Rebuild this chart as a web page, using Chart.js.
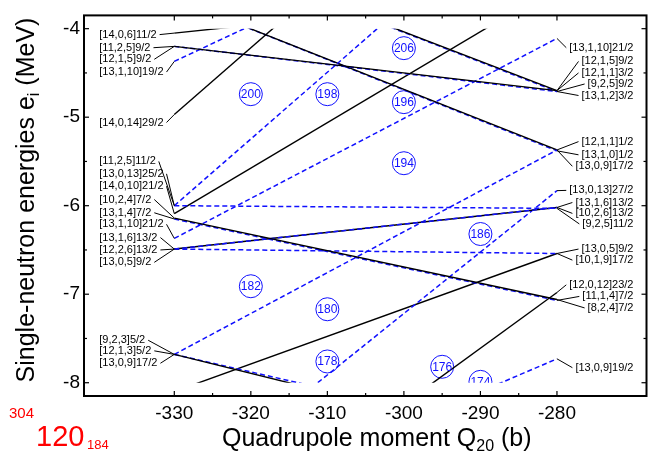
<!DOCTYPE html>
<html lang="en">
<head>
<meta charset="UTF-8">
<title>Single-neutron levels 304-120</title>
<script src="https://cdn.jsdelivr.net/npm/chart.js"></script>
<style>
  body { margin: 0; background: #fff; }
  canvas { display: block; }
</style>
</head>
<body>
<canvas id="levels" width="659" height="456"></canvas>
<script>
// levels are computed at two oblate deformations and joined by straight lines
const qEnds = [-330, -280];

// energy (MeV) of each level at Q20 = -330 and at Q20 = -280
const levelLeftE  = [-4.05, -4.20, -4.20, -4.37, -4.97, -6.00, -6.00, -6.09, -6.14, -6.15, -6.37, -6.49, -6.49,
                     -6.49, -7.68, -7.68, -7.68, -3.66, -3.66, -3.04, -3.04, -9.30, -10.13, -8.10, -9.58];
const levelRightE = [-3.60, -4.70, -4.71, -2.34, -1.20, -6.03, -2.23, -3.52, -7.06, -7.07, -4.11, -6.02, -6.02,
                     -6.54, -8.75, -8.67, -5.37, -5.37, -5.38, -4.70, -4.71, -5.83, -6.98, -6.54, -7.73];
// 1 = negative parity (odd N), drawn dashed blue
const levelOdd    = [0, 0, 1, 1, 0, 1, 1, 0, 0, 1, 1, 1, 0, 1, 0, 1, 1, 0, 1, 0, 1, 1, 0, 0, 1];

// Nilsson tags on the left side (Q20 = -330)
const leftTagText  = ['[14,0,6]11/2', '[11,2,5]9/2', '[12,1,5]9/2', '[13,1,10]19/2', '[14,0,14]29/2',
                      '[11,2,5]11/2', '[13,0,13]25/2', '[14,0,10]21/2', '[10,2,4]7/2', '[13,1,4]7/2',
                      '[13,1,10]21/2', '[13,1,6]13/2', '[12,2,6]13/2', '[13,0,5]9/2',
                      '[9,2,3]5/2', '[12,1,3]5/2', '[13,0,9]17/2'];
const leftTagE     = [-4.067, -4.215, -4.346, -4.49, -5.06, -5.50, -5.64, -5.78, -5.93, -6.08,
                      -6.21, -6.36, -6.50, -6.64, -7.52, -7.64, -7.78];
const leftTagLevel = [0, 2, 1, 3, 4, 5, 6, 7, 8, 9, 10, 11, 12, 13, 15, 14, 16];

// Nilsson tags on the right side (Q20 = -280)
const rightTagText  = ['[13,1,10]21/2', '[12,1,5]9/2', '[12,1,1]3/2', '[9,2,5]9/2', '[13,1,2]3/2',
                       '[12,1,1]1/2', '[13,1,0]1/2', '[13,0,9]17/2', '[13,0,13]27/2', '[13,1,6]13/2',
                       '[10,2,6]13/2', '[9,2,5]11/2', '[13,0,5]9/2', '[10,1,9]17/2', '[12,0,12]23/2',
                       '[11,1,4]7/2', '[8,2,4]7/2', '[13,0,9]19/2'];
const rightTagE     = [-4.215, -4.37, -4.50, -4.625, -4.755, -5.276, -5.425, -5.555, -5.827, -5.964,
                       -6.087, -6.206, -6.49, -6.615, -6.894, -7.025, -7.155, -7.83];
const rightTagLevel = [10, 1, 19, 2, 20, 17, 18, 16, 21, 11, 12, 5, 13, 23, 22, 9, 8, 24];

// shell gaps (neutron numbers) marked with circles
const gapN = [200, 198, 206, 196, 194, 186, 182, 180, 178, 176, 174];
const gapQ = [-320, -310, -300, -300, -300, -290, -320, -310, -310, -295, -290];
const gapE = [-4.74, -4.74, -4.22, -4.83, -5.52, -6.32, -6.91, -7.17, -7.76, -7.82, -7.99];

const xTickVals = [-330, -320, -310, -300, -290, -280];
const yTickVals = [-8, -7, -6, -5, -4];
const energyWindow = [-8, -4];

const FONT = '"Liberation Sans", Arial, sans-serif';
const BLUE = '#1010ff';
const tagLeftQ = -339.8;
const tagRightQ = -270;

const datasets = [];
for (let i = 0; i < levelLeftE.length; i++) {
    const odd = levelOdd[i] === 1;
    datasets.push({
        data: [{ x: qEnds[0], y: levelLeftE[i] }, { x: qEnds[1], y: levelRightE[i] }],
        showLine: true,
        borderColor: odd ? BLUE : '#000',
        borderDash: odd ? [5, 3] : [],
        borderWidth: odd ? 1.5 : 1.4,
        pointRadius: 0
    });
}
datasets.push({
    data: gapQ.map((q, i) => ({ x: q, y: gapE[i] })),
    showLine: false,
    pointStyle: 'circle',
    pointRadius: 11.5,
    pointBorderWidth: 1,
    pointBorderColor: BLUE,
    pointBackgroundColor: 'rgba(0,0,0,0)'
});

// clip the levels to the energy window and write the tags
const levelPlugin = {
    id: 'levelPlugin',
    beforeDatasetsDraw(chart) {
        const { ctx, chartArea, scales } = chart;
        const top = scales.y.getPixelForValue(energyWindow[1]);
        const bottom = scales.y.getPixelForValue(energyWindow[0]);
        ctx.save();
        ctx.beginPath();
        ctx.rect(chartArea.left, top, chartArea.right - chartArea.left, bottom - top);
        ctx.clip();
    },
    afterDatasetsDraw(chart) {
        const { ctx, scales } = chart;
        const x = scales.x, y = scales.y;

        // numbers inside the gap circles
        ctx.fillStyle = BLUE;
        ctx.font = '12px ' + FONT;
        ctx.textAlign = 'center';
        ctx.textBaseline = 'middle';
        gapN.forEach((n, i) => {
            ctx.fillText(String(n), x.getPixelForValue(gapQ[i]), y.getPixelForValue(gapE[i]) + 0.5);
        });
        ctx.restore();

        ctx.save();
        ctx.font = '11px ' + FONT;
        ctx.fillStyle = '#000';
        ctx.strokeStyle = '#000';
        ctx.lineWidth = 1;
        ctx.textBaseline = 'middle';

        // left tags
        ctx.textAlign = 'left';
        const lx = x.getPixelForValue(tagLeftQ);
        leftTagText.forEach((t, i) => {
            const ty = y.getPixelForValue(leftTagE[i]);
            ctx.fillText(t, lx, ty);
            const w = ctx.measureText(t).width;
            const lev = leftTagLevel[i];
            ctx.beginPath();
            ctx.moveTo(lx + w + 3, ty);
            ctx.lineTo(x.getPixelForValue(qEnds[0]), y.getPixelForValue(levelLeftE[lev]));
            ctx.stroke();
        });

        // right tags
        ctx.textAlign = 'right';
        const rx = x.getPixelForValue(tagRightQ);
        rightTagText.forEach((t, i) => {
            const ty = y.getPixelForValue(rightTagE[i]);
            ctx.fillText(t, rx, ty);
            const w = ctx.measureText(t).width;
            const lev = rightTagLevel[i];
            ctx.beginPath();
            ctx.moveTo(x.getPixelForValue(qEnds[1]), y.getPixelForValue(levelRightE[lev]));
            ctx.lineTo(rx - w - 3, ty);
            ctx.stroke();
        });
        ctx.restore();
    },
    afterDraw(chart) {
        const { ctx, chartArea: a, scales } = chart;
        const x = scales.x, y = scales.y;
        ctx.save();
        ctx.strokeStyle = '#000';

        // inward ticks on all four sides
        ctx.lineWidth = 1.2;
        const tick = (x1, y1, x2, y2) => { ctx.beginPath(); ctx.moveTo(x1, y1); ctx.lineTo(x2, y2); ctx.stroke(); };
        xTickVals.forEach((v, i) => {
            const px = x.getPixelForValue(v);
            tick(px, a.bottom, px, a.bottom - 5);
            tick(px, a.top, px, a.top + 5);
            if (i < xTickVals.length - 1) {
                const pm = x.getPixelForValue((v + xTickVals[i + 1]) / 2);
                tick(pm, a.bottom, pm, a.bottom - 3);
                tick(pm, a.top, pm, a.top + 3);
            }
        });
        yTickVals.forEach((v, i) => {
            const py = y.getPixelForValue(v);
            tick(a.left, py, a.left + 5, py);
            tick(a.right, py, a.right - 5, py);
            if (i < yTickVals.length - 1) {
                const pm = y.getPixelForValue((v + yTickVals[i + 1]) / 2);
                tick(a.left, pm, a.left + 3, pm);
                tick(a.right, pm, a.right - 3, pm);
            }
        });

        // frame
        ctx.lineWidth = 2;
        ctx.strokeRect(a.left, a.top, a.right - a.left, a.bottom - a.top);

        // axis titles
        ctx.fillStyle = '#000';
        ctx.textBaseline = 'alphabetic';
        ctx.textAlign = 'left';
        const big = '25px ' + FONT, sub = '16px ' + FONT;
        let cx = 222;
        const by = 446;
        ctx.font = big; ctx.fillText('Quadrupole moment Q', cx, by); cx += ctx.measureText('Quadrupole moment Q').width;
        ctx.font = sub; ctx.fillText('20', cx, by + 5); cx += ctx.measureText('20').width;
        ctx.font = big; ctx.fillText(' (b)', cx, by);

        ctx.save();
        ctx.translate(34, 200);
        ctx.rotate(-Math.PI / 2);
        ctx.font = big;
        const p1 = 'Single-neutron energies e', p3 = ' (MeV)';
        const w1 = ctx.measureText(p1).width, w3 = ctx.measureText(p3).width;
        ctx.font = sub;
        const w2 = ctx.measureText('i').width;
        let sx = -(w1 + w2 + w3) / 2;
        ctx.font = big; ctx.fillText(p1, sx, 0); sx += w1;
        ctx.font = sub; ctx.fillText('i', sx, 5); sx += w2;
        ctx.font = big; ctx.fillText(p3, sx, 0);
        ctx.restore();

        // nucleus
        ctx.fillStyle = '#ff0000';
        ctx.font = '15px ' + FONT;
        ctx.fillText('304', 9, 418);
        ctx.font = '29px ' + FONT;
        ctx.fillText('120', 36, 446);
        ctx.font = '13px ' + FONT;
        ctx.fillText('184', 87, 449);
        ctx.restore();
    }
};

new Chart(document.getElementById('levels'), {
    type: 'scatter',
    data: { datasets: datasets },
    options: {
        responsive: false,
        animation: false,
        layout: { padding: { left: 0, right: 10, top: 11, bottom: 0 } },
        plugins: { legend: { display: false }, tooltip: { enabled: false } },
        scales: {
            x: {
                type: 'linear',
                min: -341.8,
                max: -268.3,
                grid: { display: false, drawTicks: false },
                border: { display: false },
                afterBuildTicks: (s) => { s.ticks = xTickVals.map(v => ({ value: v })); },
                afterFit: (s) => { s.height = 60; },
                ticks: { color: '#000', padding: 6, font: { family: FONT, size: 19 } }
            },
            y: {
                type: 'linear',
                min: -8.15,
                max: -3.85,
                grid: { display: false, drawTicks: false },
                border: { display: false },
                afterBuildTicks: (s) => { s.ticks = yTickVals.map(v => ({ value: v })); },
                afterFit: (s) => { s.width = 84; },
                ticks: { color: '#000', padding: 4, font: { family: FONT, size: 19 } }
            }
        }
    },
    plugins: [levelPlugin]
});
</script>
</body>
</html>
